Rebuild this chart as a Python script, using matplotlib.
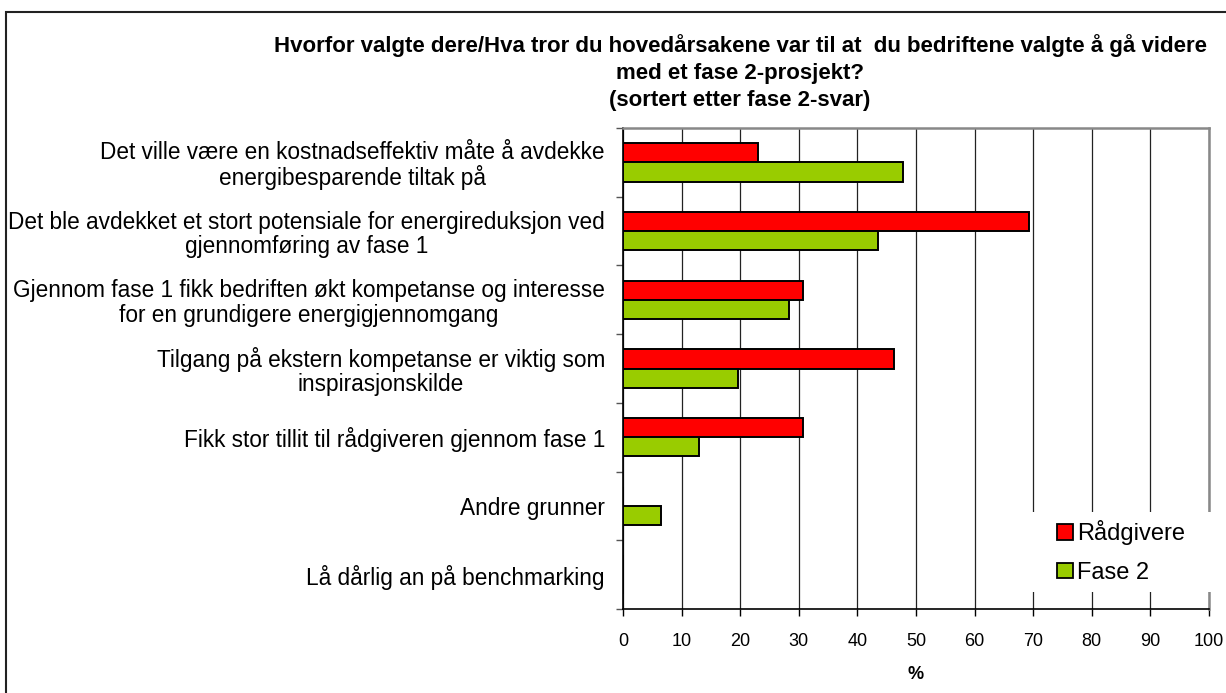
import matplotlib
matplotlib.use("Agg")
import matplotlib.pyplot as plt
from matplotlib.patches import Rectangle, Patch
import numpy as np

plt.rcParams['font.family'] = ['Liberation Sans', 'DejaVu Sans']

categories = [
    "Det ville være en kostnadseffektiv måte å avdekke\nenergibesparende tiltak på",
    "Det ble avdekket et stort potensiale for energireduksjon ved\ngjennomføring av fase 1",
    "Gjennom fase 1 fikk bedriften økt kompetanse og interesse\nfor en grundigere energigjennomgang",
    "Tilgang på ekstern kompetanse er viktig som\ninspirasjonskilde",
    "Fikk stor tillit til rådgiveren gjennom fase 1",
    "Andre grunner",
    "Lå dårlig an på benchmarking",
]
radgivere = [23.1, 69.2, 30.8, 46.2, 30.8, 0.0, 0.0]
fase2 = [47.8, 43.5, 28.3, 19.6, 13.0, 6.5, 0.0]
series_names = ["Rådgivere", "Fase 2"]
series_colors = ["#FF0000", "#99CC00"]
xticks = list(range(0, 101, 10))
title = ("Hvorfor valgte dere/Hva tror du hovedårsakene var til at  du bedriftene valgte å gå videre\n"
         "med et fase 2-prosjekt?\n(sortert etter fase 2-svar)")

W, H = 1226, 693
fig = plt.figure(figsize=(W / 100, H / 100), dpi=100)
fig.patch.set_facecolor("white")

# outer border
fig.patches.append(Rectangle((6 / W, -0.1), 1.2, 1 - 12 / H + 0.1, transform=fig.transFigure,
                             fill=False, edgecolor="#222222", linewidth=1.5, zorder=0))

left, right, top, bottom = 623, 1209, 128, 609
ax = fig.add_axes([left / W, 1 - bottom / H, (right - left) / W, (bottom - top) / H])

y = np.arange(len(categories))
h = 0.28
ax.barh(y - h / 2, radgivere, height=h, color=series_colors[0], edgecolor="black", linewidth=1.4, zorder=3)
ax.barh(y + h / 2, fase2, height=h, color=series_colors[1], edgecolor="black", linewidth=1.4, zorder=3)

ax.set_xlim(0, 100)
ax.set_ylim(len(categories) - 0.5, -0.5)
ax.set_xticks(xticks)
ax.set_xticklabels([str(v) for v in xticks], fontsize=13)
ax.tick_params(axis="x", direction="out", length=5, width=1, pad=12)
ax.xaxis.grid(True, color="#222222", linewidth=0.9, zorder=0)
ax.set_axisbelow(True)

ax.set_yticks(np.arange(-0.5, len(categories), 1.0))
ax.set_yticklabels([])
ax.set_yticks(y, minor=True)
ax.set_yticklabels(categories, minor=True, fontsize=16.3)
ax.tick_params(axis="y", which="major", direction="out", length=5, width=1, color="#555555")
ax.tick_params(axis="y", which="minor", length=0, pad=13)
for t in ax.get_yticklabels(minor=True):
    t.set_multialignment("center")
    t.set_linespacing(1.08)

for s in ["top", "right"]:
    ax.spines[s].set_color("#888888")
    ax.spines[s].set_linewidth(1.8)
for s in ["left", "bottom"]:
    ax.spines[s].set_color("black")
    ax.spines[s].set_linewidth(1.2)

ax.set_xlabel("%", fontsize=13, fontweight="bold", labelpad=12)

fig.text(740 / W, 1 - 34 / H, title, ha="center", va="top", fontsize=16, fontweight="bold",
         linespacing=1.38)

# legend background hiding gridlines
fig.patches.append(Rectangle((1020 / W, 1 - 592 / H), 200 / W, 80 / H, transform=fig.transFigure,
                             facecolor="white", edgecolor="none", zorder=1))
handles = [Patch(facecolor=c, edgecolor="black", linewidth=1.3) for c in series_colors]
fig.legend(handles, series_names, loc="center left", bbox_to_anchor=(1036 / W, 1 - 552 / H),
           frameon=False, fontsize=17, handlelength=0.65, handleheight=0.65, handletextpad=0.2,
           labelspacing=0.7).set_zorder(2)

fig.savefig("out.png", dpi=100)
